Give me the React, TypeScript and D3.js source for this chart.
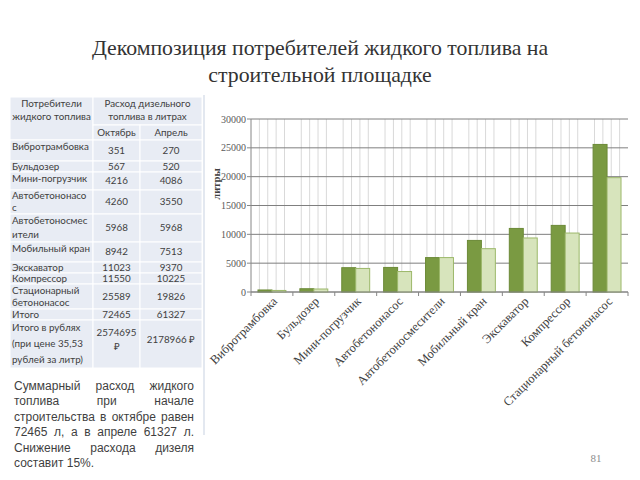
import React from 'react';
import * as d3 from 'd3';

const categories = ['Вибротрамбовка', 'Бульдозер', 'Мини-погрузчик', 'Автобетононасос', 'Автобетоносмесители', 'Мобильный кран', 'Экскаватор', 'Компрессор', 'Стационарный бетононасос'];
const october = [351, 567, 4216, 4260, 5968, 8942, 11023, 11550, 25589];
const april = [270, 520, 4086, 3550, 5968, 7513, 9370, 10225, 19826];
const seriesKeys = ['Октябрь', 'Апрель'];
const yTicks = [0, 5000, 10000, 15000, 20000, 25000, 30000];

const titleLines = ['Декомпозиция потребителей жидкого топлива на', 'строительной площадке'];
const headerCol1 = ['Потребители', 'жидкого топлива'];
const headerMerged = ['Расход дизельного', 'топлива в литрах'];
const tableLabels: string[][] = [
  ['Вибротрамбовка'], ['Бульдозер'], ['Мини-погрузчик'], ['Автобетононасо', 'с'],
  ['Автобетоносмес', 'ители'], ['Мобильный кран'], ['Экскаватор'], ['Компрессор'],
  ['Стационарный', 'бетононасос'], ['Итого'], ['Итого в рублях', '(при цене 35,53', 'рублей за литр)'],
];
const tableOct: string[][] = [['351'], ['567'], ['4216'], ['4260'], ['5968'], ['8942'], ['11023'], ['11550'], ['25589'], ['72465'], ['2574695', '₽']];
const tableApr: string[][] = [['270'], ['520'], ['4086'], ['3550'], ['5968'], ['7513'], ['9370'], ['10225'], ['19826'], ['61327'], ['2178966 ₽']];
const paragraphLines = [
  'Суммарный расход жидкого',
  'топлива при начале',
  'строительства в октябре равен',
  '72465 л, а в апреле 61327 л.',
  'Снижение расхода дизеля',
  'составит 15%.',
];
const yAxisTitle = 'литры';
const pageNumber = '81';

// layout
const W = 640, H = 480;
const chart = { left: 251, right: 628, top: 119, bottom: 292 };
const tableX = [10, 93, 140, 202];
const tableTop = 97;
const headerHeights = [28, 15];
const rowHeights = [21, 11, 18, 24, 28, 20, 11, 11, 25, 11, 48];
const tableFont = 'Lato, "Open Sans", sans-serif';
const paraFont = '12px "Liberation Sans", Arial, sans-serif';
const serif = '"Liberation Serif", "DejaVu Serif", "Times New Roman", serif';

let ctx: CanvasRenderingContext2D | null = null;
function measure(text: string, font: string) {
  if (!ctx) ctx = document.createElement('canvas').getContext('2d');
  if (!ctx) return text.length * 6;
  ctx.font = font;
  return ctx.measureText(text).width;
}

function Paragraph() {
  const left = 14, right = 194, top = 390, lh = 15.4;
  return (
    <g fill="#3f3f3f" style={{ font: paraFont }}>
      {paragraphLines.map((line, i) => {
        const y = top + i * lh;
        const words = line.split(' ');
        if (i === paragraphLines.length - 1 || words.length < 2) {
          return <text key={i} x={left} y={y}>{line}</text>;
        }
        const widths = words.map(w => measure(w, paraFont));
        const total = d3.sum(widths);
        const gap = (right - left - total) / (words.length - 1);
        let x = left;
        return (
          <g key={i}>
            {words.map((w, j) => {
              const el = <text key={j} x={x} y={y}>{w}</text>;
              x += widths[j] + gap;
              return el;
            })}
          </g>
        );
      })}
    </g>
  );
}

function Table() {
  const cellFill = '#e8ecf4';
  const fs = 9.8;
  const elems: React.ReactNode[] = [];
  const h0 = headerHeights[0], h1 = headerHeights[1];
  const y0 = tableTop, y1 = tableTop + h0, y2 = y1 + h1;
  elems.push(<rect key="h1" x={tableX[0]} y={y0} width={tableX[1] - tableX[0]} height={h0 + h1} fill={cellFill} stroke="#fff" />);
  elems.push(<rect key="h2" x={tableX[1]} y={y0} width={tableX[3] - tableX[1]} height={h0} fill={cellFill} stroke="#fff" />);
  elems.push(<rect key="h3" x={tableX[1]} y={y1} width={tableX[2] - tableX[1]} height={h1} fill={cellFill} stroke="#fff" />);
  elems.push(<rect key="h4" x={tableX[2]} y={y1} width={tableX[3] - tableX[2]} height={h1} fill={cellFill} stroke="#fff" />);
  headerCol1.forEach((t, i) => elems.push(
    <text key={'hc1' + i} x={(tableX[0] + tableX[1]) / 2} y={y0 + 7 + i * 13} dy="0.35em" textAnchor="middle">{t}</text>));
  headerMerged.forEach((t, i) => elems.push(
    <text key={'hm' + i} x={(tableX[1] + tableX[3]) / 2} y={y0 + 7 + i * 13} dy="0.35em" textAnchor="middle">{t}</text>));
  seriesKeys.forEach((t, i) => elems.push(
    <text key={'hs' + i} x={(tableX[1 + i] + tableX[2 + i]) / 2} y={y1 + h1 / 2} dy="0.35em" textAnchor="middle">{t}</text>));
  let y = y2;
  rowHeights.forEach((h, r) => {
    for (let c = 0; c < 3; c++) {
      elems.push(<rect key={`r${r}c${c}`} x={tableX[c]} y={y} width={tableX[c + 1] - tableX[c]} height={h} fill={cellFill} stroke="#fff" />);
    }
    const lab = tableLabels[r];
    lab.forEach((t, i) => {
      const cy = lab.length === 1 ? y + Math.min(h / 2, 7) : y + (h * (i + 0.5)) / lab.length;
      elems.push(<text key={`l${r}_${i}`} x={12} y={cy} dy="0.35em">{t}</text>);
    });
    [tableOct[r], tableApr[r]].forEach((vals, c) => {
      const cx = (tableX[c + 1] + tableX[c + 2]) / 2;
      const cyc = y + h / 2 - (vals.length > 1 || h > 40 ? 4 : 0);
      vals.forEach((t, i) => {
        const cy = cyc + (i - (vals.length - 1) / 2) * 14;
        elems.push(<text key={`v${r}_${c}_${i}`} x={cx} y={cy} dy="0.35em" textAnchor="middle">{t}</text>);
      });
    });
    y += h;
  });
  return <g fill="#404040" style={{ fontFamily: tableFont, fontSize: fs }}>{elems}</g>;
}

function Chart() {
  const x0 = d3.scaleBand<string>().domain(categories).range([chart.left, chart.right]);
  const bw = x0.bandwidth();
  const x1 = d3.scaleBand<string>().domain(seriesKeys).range([0, bw]).paddingInner(0).paddingOuter(0.5);
  const y = d3.scaleLinear().domain([0, 30000]).range([chart.bottom, chart.top]);
  const values = [october, april];
  const fills = ['#7a9a42', '#d7e4bc'];
  const strokes = ['#6c8a38', '#9cb86a'];
  const minorFractions = [0.2, 0.4, 0.6, 0.8];
  return (
    <g>
      {categories.map(c => minorFractions.map((f, i) => (
        <line key={c + i} x1={(x0(c) as number) + f * bw} x2={(x0(c) as number) + f * bw} y1={chart.top} y2={chart.bottom} stroke="#d9d9d9" strokeWidth={1} />
      )))}
      {yTicks.map(t => (
        <line key={'g' + t} x1={chart.left} x2={chart.right} y1={y(t)} y2={y(t)} stroke="#7f7f7f" strokeWidth={1} />
      ))}
      {categories.map((c, i) => seriesKeys.map((k, s) => {
        const v = values[s][i];
        return (
          <rect key={c + k} x={(x0(c) as number) + (x1(k) as number)} y={y(v)} width={x1.bandwidth()} height={y(0) - y(v)}
            fill={fills[s]} stroke={strokes[s]} strokeWidth={1} />
        );
      }))}
      <line x1={chart.left} x2={chart.left} y1={chart.top} y2={chart.bottom} stroke="#868686" />
      {yTicks.map(t => (
        <g key={'yt' + t}>
          <line x1={chart.left - 4} x2={chart.left} y1={y(t)} y2={y(t)} stroke="#868686" />
          <text x={chart.left - 5} y={y(t)} dy="0.35em" textAnchor="end" fill="#595959"
            style={{ fontFamily: serif, fontSize: 10 }}>{t}</text>
        </g>
      ))}
      <line x1={chart.left} x2={chart.right} y1={chart.bottom} y2={chart.bottom} stroke="#868686" />
      {categories.map(c => (
        <line key={'xt' + c} x1={(x0(c) as number) + bw} x2={(x0(c) as number) + bw} y1={chart.bottom} y2={chart.bottom + 4} stroke="#868686" />
      ))}
      <line x1={chart.left} x2={chart.left} y1={chart.bottom} y2={chart.bottom + 4} stroke="#868686" />
      {categories.map(c => {
        const cx = (x0(c) as number) + bw / 2;
        return (
          <text key={'xl' + c} transform={`translate(${cx + 3},${chart.bottom + 7}) rotate(-45)`} textAnchor="end" dy="0.35em"
            fill="#404040" style={{ fontFamily: serif, fontSize: 12.5 }}>{c}</text>
        );
      })}
      <text transform={`translate(216,184) rotate(-90)`} textAnchor="middle" dy="0.35em" fill="#404040"
        style={{ fontFamily: serif, fontSize: 10.5, fontWeight: 'bold' }}>{yAxisTitle}</text>
    </g>
  );
}

export default function App() {
  return (
    <svg width={W} height={H} style={{ position: 'absolute', left: 0, top: 0, background: '#fff' }}>
      <rect width={W} height={H} fill="#fff" />
      <g fill="#333" style={{ fontFamily: serif, fontSize: 21.8 }}>
        {titleLines.map((t, i) => (
          <text key={i} x={320} y={55 + i * 27} textAnchor="middle">{t}</text>
        ))}
      </g>
      <line x1={204} x2={204} y1={95} y2={435} stroke="#e3e8f0" strokeWidth={2} />
      <Table />
      <Chart />
      <Paragraph />
      <text x={596} y={462} textAnchor="middle" fill="#8c8c8c" style={{ fontFamily: serif, fontSize: 11 }}>{pageNumber}</text>
    </svg>
  );
}
